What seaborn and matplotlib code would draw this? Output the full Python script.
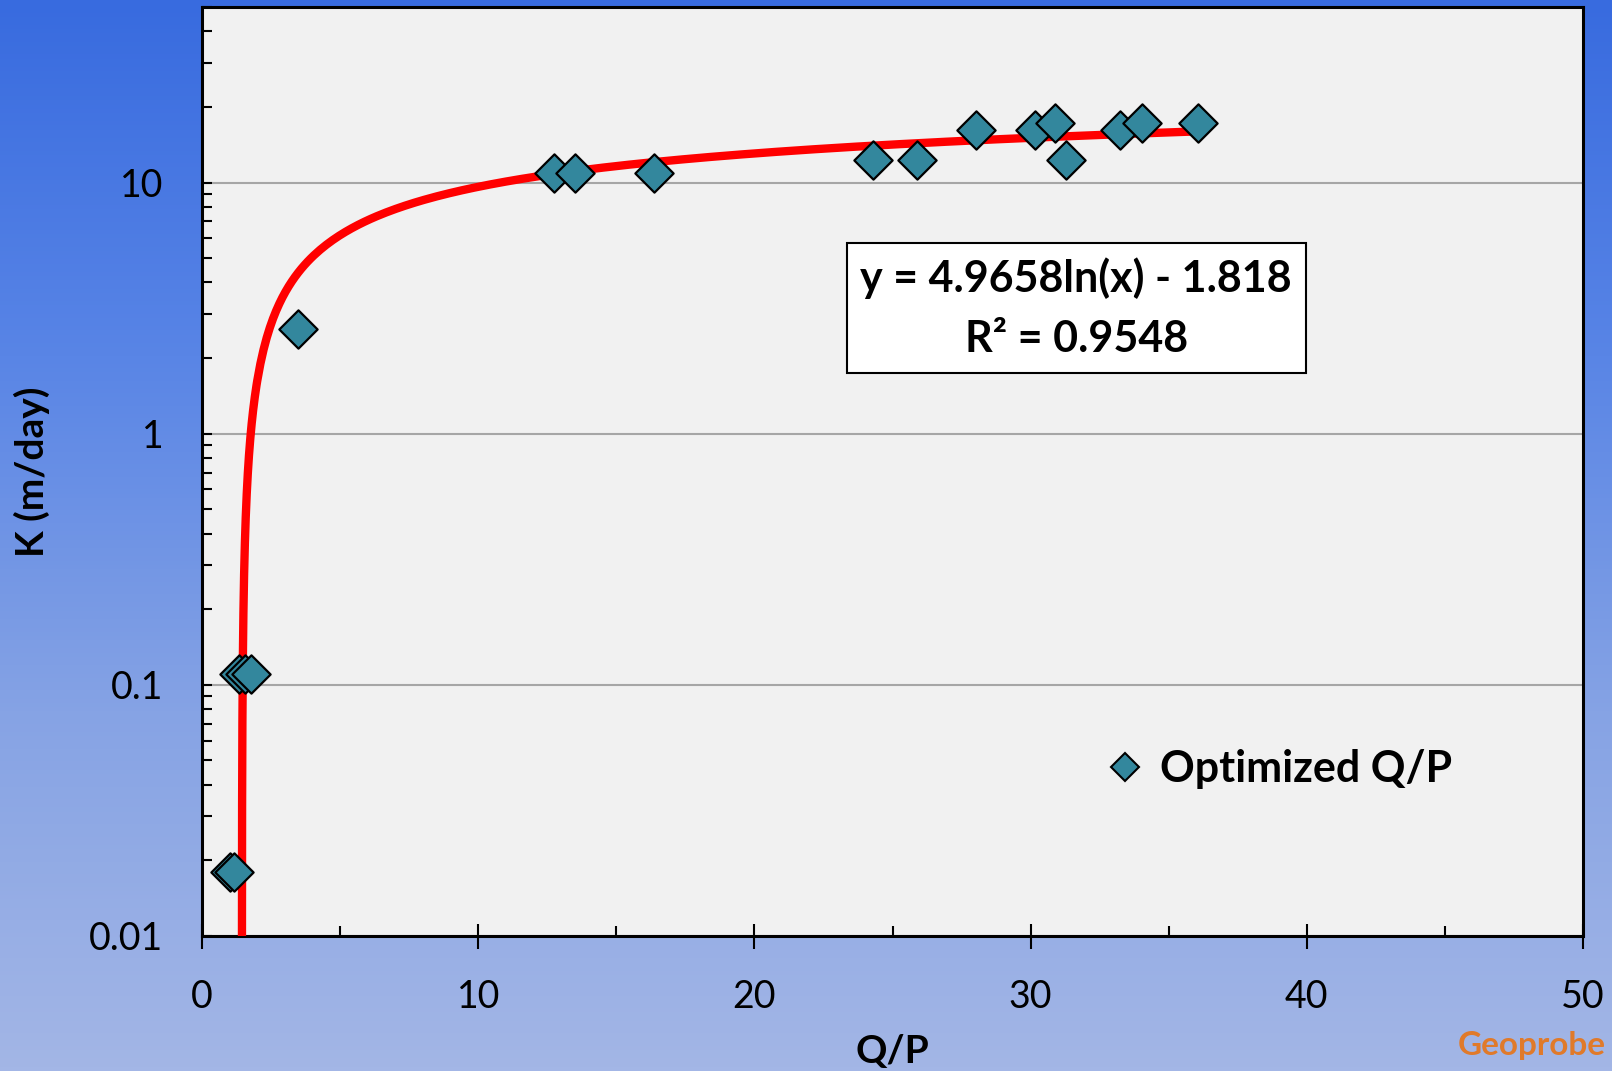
import numpy as np
import pandas as pd
import matplotlib
matplotlib.use("Agg")
import matplotlib.pyplot as plt
import seaborn as sns
from matplotlib.lines import Line2D
from matplotlib.ticker import FixedLocator, LogLocator, NullFormatter, FuncFormatter
from matplotlib.colors import LinearSegmentedColormap

# ---- data ----
qp = [1.0, 1.15, 1.34, 1.55, 1.78, 3.46, 12.74, 13.5, 16.35, 24.29, 25.88, 28.04,
      30.16, 30.9, 31.27, 33.22, 34.05, 36.06]
k = [0.018, 0.018, 0.11, 0.11, 0.11, 2.6, 10.9, 10.9, 10.9, 12.3, 12.3, 16.2,
     16.2, 17.3, 12.3, 16.2, 17.3, 17.3]
fit_a = 4.9658
fit_b = -1.818
eq_text = "y = 4.9658ln(x) - 1.818\nR² = 0.9548"
series_name = "Optimized Q/P"
x_ticks = [0, 10, 20, 30, 40, 50]
y_ticks = [0.01, 0.1, 1, 10]

df = pd.DataFrame({"Q/P": qp, "K": k})

# trendline from the stated equation
x0 = np.exp((0.004 - fit_b) / fit_a)
xf = np.concatenate([np.linspace(x0, 2.0, 200), np.linspace(2.0, max(qp), 300)[1:]])
yf = fit_a * np.log(xf) + fit_b
fit_df = pd.DataFrame({"x": xf, "y": yf})

sns.set_theme(style="white")
plt.rcParams["font.family"] = ["Lato", "DejaVu Sans"]
plt.rcParams["text.color"] = "black"
plt.rcParams["axes.labelcolor"] = "black"
plt.rcParams["xtick.color"] = "black"
plt.rcParams["ytick.color"] = "black"

W, H = 1612, 1071
fig = plt.figure(figsize=(W / 100, H / 100), dpi=100)

# background gradient
bg = fig.add_axes([0, 0, 1, 1], zorder=-10)
cmap = LinearSegmentedColormap.from_list("bgc", ["#386bdf", "#5985e6", "#86a3e4", "#a3b6e6"])
grad = np.linspace(0, 1, 256).reshape(-1, 1)
bg.imshow(grad, aspect="auto", cmap=cmap, extent=[0, 1, 0, 1], origin="upper")
bg.set_axis_off()

L, R, T, B = 202, 1583, 7, 936
ax = fig.add_axes([L / W, 1 - B / H, (R - L) / W, (B - T) / H])
ax.set_facecolor("#f1f1f1")

ax.set_yscale("log")
ax.set_xlim(0, 50)
ax.set_ylim(0.01, 50)

ax.yaxis.grid(True, which="major", color="#a6a6a6", lw=1.5)
ax.xaxis.grid(False)
ax.set_axisbelow(True)

sns.lineplot(data=fit_df, x="x", y="y", color="#ff0000", lw=6, sort=False,
             estimator=None, ax=ax, zorder=3, solid_capstyle="round")
sns.scatterplot(data=df, x="Q/P", y="K", marker="D", s=380, color="#33879d",
                edgecolor="black", linewidth=1.6, ax=ax, zorder=4, legend=False)

# ticks
ax.xaxis.set_major_locator(FixedLocator(x_ticks))
ax.xaxis.set_minor_locator(FixedLocator([5, 15, 25, 35, 45]))
ax.yaxis.set_major_locator(FixedLocator(y_ticks))
ax.yaxis.set_minor_locator(LogLocator(base=10, subs=np.arange(2, 10)))
ax.yaxis.set_minor_formatter(NullFormatter())
ax.yaxis.set_major_formatter(FuncFormatter(lambda v, p: f"{v:g}"))
ax.xaxis.set_major_formatter(FuncFormatter(lambda v, p: f"{v:g}"))

ax.tick_params(axis="x", which="major", direction="inout", length=18, width=1.5,
               labelsize=27, pad=22, colors="black")
ax.tick_params(axis="x", which="minor", direction="in", length=7, width=1.5)
ax.tick_params(axis="y", which="major", direction="in", length=7, width=1.5,
               labelsize=27, pad=28, colors="black")
ax.tick_params(axis="y", which="minor", direction="in", length=7, width=1.5)
ax.tick_params(bottom=True, left=True, which="both")
for s in ax.spines.values():
    s.set_color("black")
    s.set_linewidth(2.2)

ax.set_xlabel("Q/P", fontsize=28, fontweight="bold", labelpad=14, color="black")
ax.set_ylabel("K (m/day)", fontsize=28, fontweight="bold", labelpad=28, color="black")

# equation box
ax.text(0.633, 0.676, eq_text, transform=ax.transAxes, ha="center", va="center",
        fontsize=31, fontweight="bold", linespacing=1.6, color="black",
        bbox=dict(boxstyle="square,pad=0.32", facecolor="white", edgecolor="black", lw=1.5),
        zorder=6)

# legend
handle = Line2D([], [], marker="D", linestyle="none", markersize=14,
                markerfacecolor="#33879d", markeredgecolor="black", markeredgewidth=1.5)
leg = ax.legend([handle], [series_name], loc="center left",
                bbox_to_anchor=(0.631, 0.18), frameon=False, handlelength=0.6,
                handletextpad=0.5, prop=dict(size=31, weight="bold"),
                labelcolor="black")

# logo text
fig.text(1606 / W, 1 - 1046 / H, "Geoprobe", fontsize=24, fontweight="bold",
         color="#e07a2a", ha="right", va="center")

fig.savefig("out.png", dpi=100)
